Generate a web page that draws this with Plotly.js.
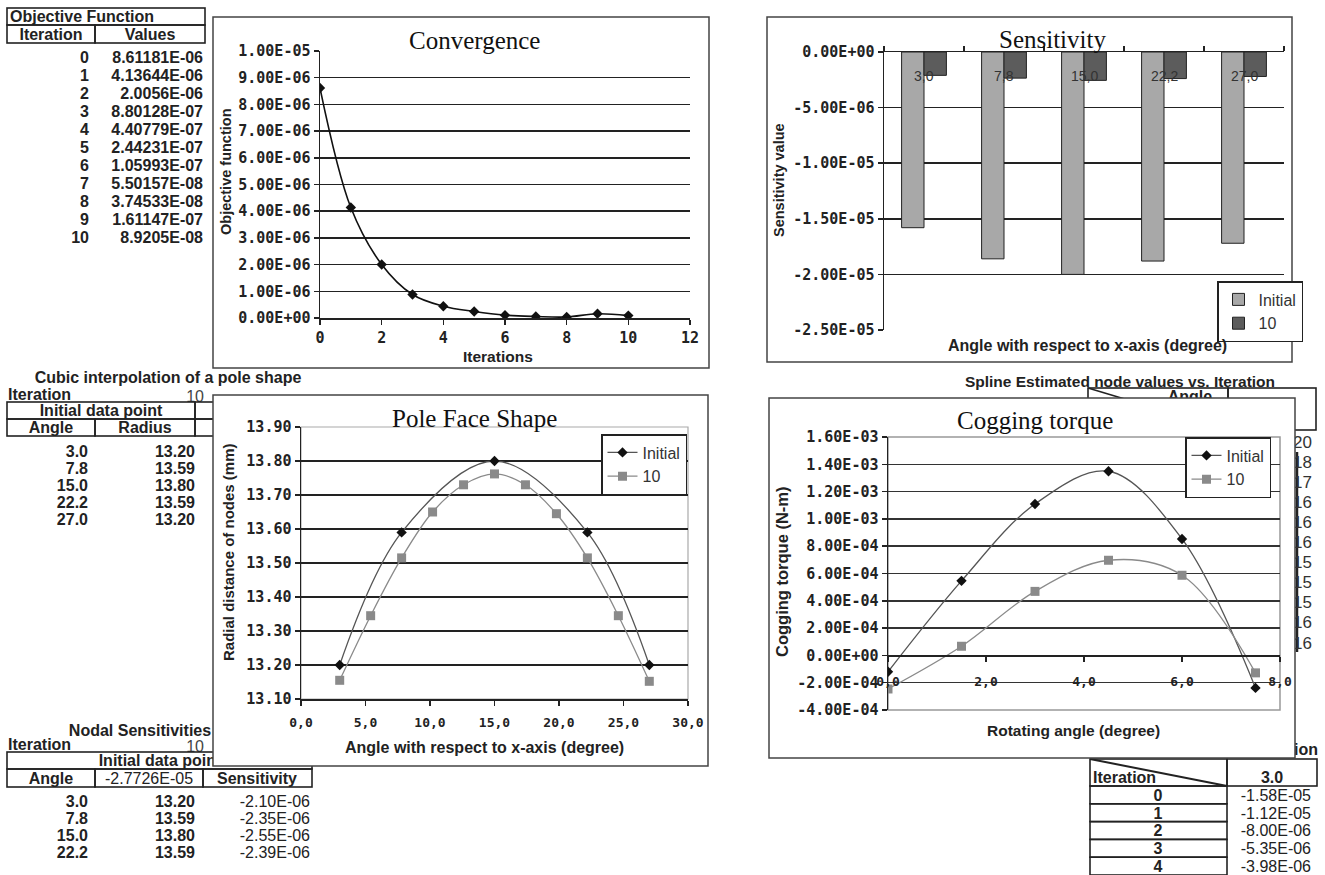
<!DOCTYPE html>
<html><head><meta charset="utf-8">
<script src="https://cdn.plot.ly/plotly-3.0.1.min.js"></script>
<style>
body{margin:0;background:#fff;width:1325px;height:875px;overflow:hidden;position:relative;}
#bg{position:absolute;left:0;top:0;z-index:0;}
#chart{position:absolute;left:0;top:0;width:1325px;height:875px;z-index:1;}
</style></head>
<body>
<svg id="bg" width="1325" height="875" xmlns="http://www.w3.org/2000/svg"></svg>
<div id="chart"></div>
<script>
// ---------------- DATA ----------------
const iterations = [0,1,2,3,4,5,6,7,8,9,10];
const objValues = [8.61181e-6,4.13644e-6,2.0056e-6,8.80128e-7,4.40779e-7,2.44231e-7,1.05993e-7,5.50157e-8,3.74533e-8,1.61147e-7,8.9205e-8];
const objValueLabels = ['8.61181E-06','4.13644E-06','2.0056E-06','8.80128E-07','4.40779E-07','2.44231E-07','1.05993E-07','5.50157E-08','3.74533E-08','1.61147E-07','8.9205E-08'];

const convXTicks = [0,2,4,6,8,10,12];
const convYTicks = [0,1e-6,2e-6,3e-6,4e-6,5e-6,6e-6,7e-6,8e-6,9e-6,1e-5];
const convYLabels = ['0.00E+00','1.00E-06','2.00E-06','3.00E-06','4.00E-06','5.00E-06','6.00E-06','7.00E-06','8.00E-06','9.00E-06','1.00E-05'];

const sensCategories = ['3,0','7,8','15,0','22,2','27,0'];
const sensInitial = [-1.58e-5,-1.86e-5,-2.0e-5,-1.88e-5,-1.72e-5];
const sensIter10 = [-2.10e-6,-2.35e-6,-2.55e-6,-2.39e-6,-2.2e-6];
const sensYTicks = [0,-5e-6,-1e-5,-1.5e-5,-2e-5,-2.5e-5];
const sensYLabels = ['0.00E+00','-5.00E-06','-1.00E-05','-1.50E-05','-2.00E-05','-2.50E-05'];

const poleAnglesInitial = [3.0,7.8,15.0,22.2,27.0];
const poleRadiusInitial = [13.20,13.59,13.80,13.59,13.20];
const poleAngles10 = [3.0,5.4,7.8,10.2,12.6,15.0,17.4,19.8,22.2,24.6,27.0];
const poleRadius10 = [13.155,13.345,13.515,13.65,13.73,13.762,13.73,13.645,13.515,13.345,13.152];
const poleXTicks = [0,5,10,15,20,25,30];
const poleXLabels = ['0,0','5,0','10,0','15,0','20,0','25,0','30,0'];
const poleYTicks = [13.1,13.2,13.3,13.4,13.5,13.6,13.7,13.8,13.9];
const poleYLabels = ['13.10','13.20','13.30','13.40','13.50','13.60','13.70','13.80','13.90'];

const cogAngles = [0,1.5,3.0,4.5,6.0,7.5];
const cogInitial = [-1.2e-4,5.46e-4,1.109e-3,1.349e-3,8.53e-4,-2.38e-4];
const cogIter10 = [-2.46e-4,6.7e-5,4.69e-4,6.97e-4,5.87e-4,-1.28e-4];
const cogXTicks = [0,2,4,6,8];
const cogXLabels = ['0,0','2,0','4,0','6,0','8,0'];
const cogYTicks = [-4e-4,-2e-4,0,2e-4,4e-4,6e-4,8e-4,1e-3,1.2e-3,1.4e-3,1.6e-3];
const cogYLabels = ['-4.00E-04','-2.00E-04','0.00E+00','2.00E-04','4.00E-04','6.00E-04','8.00E-04','1.00E-03','1.20E-03','1.40E-03','1.60E-03'];

// table texts
const tblPoleAngles = ['3.0','7.8','15.0','22.2','27.0'];
const tblPoleRadius = ['13.20','13.59','13.80','13.59','13.20'];
const tblNodalAngles = ['3.0','7.8','15.0','22.2'];
const tblNodalRadius = ['13.20','13.59','13.80','13.59'];
const tblNodalSens = ['-2.10E-06','-2.35E-06','-2.55E-06','-2.39E-06'];
const tblIterRows = ['0','1','2','3','4'];
const tblIterSens = ['-1.58E-05','-1.12E-05','-8.00E-06','-5.35E-06','-3.98E-06'];
const tblSplineValues = ['13.20','13.18','13.17','13.16','13.16','13.16','13.15','13.15','13.15','13.16','13.16'];

// ---------------- BACKGROUND SPREADSHEET ----------------
const NS='http://www.w3.org/2000/svg';
const bg=document.getElementById('bg');
function el(tag,attrs,txt){const e=document.createElementNS(NS,tag);for(const k in attrs)e.setAttribute(k,attrs[k]);if(txt!==undefined)e.textContent=txt;bg.appendChild(e);return e;}
function ln(x1,y1,x2,y2,w){el('line',{x1,y1,x2,y2,stroke:'#222','stroke-width':w||1.6});}
function box(x0,y0,x1,y1,w){el('rect',{x:x0,y:y0,width:x1-x0,height:y1-y0,fill:'none',stroke:'#222','stroke-width':w||1.6});}
function tx(s,x,y,anchor,o){o=o||{};el('text',{x,y,'text-anchor':anchor||'start','dominant-baseline':'central','font-family':'Liberation Sans, Arial, sans-serif','font-weight':o.w||'bold','font-size':o.s||16,fill:o.c||'#222'},s);}

// Objective function table
box(7,8,205,25); tx('Objective Function',10,16.5);
box(7,25,95,43); box(95,25,205,43);
tx('Iteration',51,34,'middle'); tx('Values',150,34,'middle');
iterations.forEach((it,i)=>{const y=57+18*i; tx(String(it),89,y,'end'); tx(objValueLabels[i],203,y,'end');});

// Cubic interpolation table
tx('Cubic interpolation of a pole shape',168,377,'middle');
tx('Iteration',8,394); tx('10',204,396,'end',{w:'normal',c:'#444'});
box(7,402,195,419); box(195,402,240,419);
box(7,419,95,436); box(95,419,195,436); box(195,419,240,436);
tx('Initial data point',101,410.5,'middle'); tx('Angle',51,427.5,'middle'); tx('Radius',145,427.5,'middle');
tblPoleAngles.forEach((a,i)=>{const y=451+17*i; tx(a,88,y,'end'); tx(tblPoleRadius[i],195,y,'end');});

// Nodal sensitivities table
tx('Nodal Sensitivities',140,730,'middle');
tx('Iteration',8,744); tx('10',204,746,'end',{w:'normal',c:'#444'});
box(7,752,312,769); tx('Initial data point',160,760.5,'middle',{w:'bold'});
box(7,769,95,787); box(95,769,203,787); box(203,769,312,787);
tx('Angle',51,778,'middle'); tx('-2.7726E-05',149,778,'middle',{w:'normal'}); tx('Sensitivity',257,778,'middle');
tblNodalAngles.forEach((a,i)=>{const y=801+17*i; tx(a,88,y,'end'); tx(tblNodalRadius[i],195,y,'end'); tx(tblNodalSens[i],310,y,'end',{w:'normal'});});

// Spline estimated table (behind cogging chart)
tx('Spline Estimated node values vs. Iteration',1120,381,'middle',{s:15.5});
box(1088,388,1228,430); box(1228,388,1316,430); ln(1088,388,1228,430,1.6);
tx('Angle',1190,396,'middle');
ln(1297,452,1297,652,2.5);
tblSplineValues.forEach((v,i)=>{tx(v,1312,442+20.1*i,'end',{w:'normal',s:17,c:'#333'});});

// Nodal sensitivities vs iteration table (bottom right)
tx('Nodal Sensitivities vs. Iteration',1318,749,'end');
box(1090,759,1227,786); box(1227,759,1317,786); ln(1090,759,1227,786,2);
tx('Iteration',1093,777); tx('3.0',1272,777,'middle');
tblIterRows.forEach((r,i)=>{const y0=786+17.8*i; box(1090,y0,1227,y0+17.8); tx(r,1158,y0+9.2,'middle'); tx(tblIterSens[i],1311,y0+9.2,'end',{w:'normal'});});

// ---------------- CHARTS ----------------
const W=1325,H=875;
const dx=(a,b)=>[a/W,b/W];
const dy=(top,bot)=>[1-bot/H,1-top/H];
const G={
 conv:{frame:[213,17,709,368],plot:[320,51,690,318]},
 sens:{frame:[767,17,1292,362],plot:[884,52,1284,330]},
 pole:{frame:[213,395,708,766],plot:[301,427,688,699]},
 cog:{frame:[769,398,1295,758],plot:[888,437,1280,710]}
};
const tickFont={family:'DejaVu Sans Mono',size:15,weight:'bold',color:'#222'};
const axTitle=(s)=>({family:'Liberation Sans',size:s,weight:'bold',color:'#222'});
const titleFont={family:'Liberation Serif',size:25,color:'#111'};
const base={showline:true,linecolor:'#222',linewidth:1.5,ticks:'outside',tickcolor:'#222',ticklen:5,tickwidth:1.5,zeroline:false,fixedrange:true,tickfont:tickFont,gridcolor:'#222',gridwidth:1.5};

function frameShape(f){return {type:'rect',xref:'paper',yref:'paper',x0:f[0]/W,x1:f[2]/W,y0:1-f[3]/H,y1:1-f[1]/H,fillcolor:'#fff',line:{color:'#444',width:1.5},layer:'below'};}
function ann(text,x,y,font,angle){return {text,x:x/W,y:1-y/H,xref:'paper',yref:'paper',showarrow:false,font,textangle:angle||0,xanchor:'center',yanchor:'middle'};}

const traces=[
 {x:iterations,y:objValues,xaxis:'x',yaxis:'y',mode:'lines+markers',line:{shape:'spline',smoothing:1,color:'#111',width:1.6},marker:{symbol:'diamond',size:8,color:'#111'},showlegend:false,name:'Objective'},
 {type:'bar',x:sensCategories,y:sensInitial,xaxis:'x2',yaxis:'y2',name:'Initial',legend:'legend2',marker:{color:'#a8a8a8',line:{color:'#222',width:1}}},
 {type:'bar',x:sensCategories,y:sensIter10,xaxis:'x2',yaxis:'y2',name:'10',legend:'legend2',marker:{color:'#5c5c5c',line:{color:'#222',width:1}}},
 {x:poleAnglesInitial,y:poleRadiusInitial,xaxis:'x3',yaxis:'y3',mode:'lines+markers',name:'Initial',legend:'legend',line:{shape:'spline',smoothing:1,color:'#555',width:1.3},marker:{symbol:'diamond',size:8,color:'#111'}},
 {x:poleAngles10,y:poleRadius10,xaxis:'x3',yaxis:'y3',mode:'lines+markers',name:'10',legend:'legend',line:{shape:'spline',smoothing:1,color:'#8a8a8a',width:1.3},marker:{symbol:'square',size:9,color:'#8a8a8a'}},
 {x:cogAngles,y:cogInitial,xaxis:'x4',yaxis:'y4',mode:'lines+markers',name:'Initial',legend:'legend3',line:{shape:'spline',smoothing:1,color:'#555',width:1.3},marker:{symbol:'diamond',size:8,color:'#111'}},
 {x:cogAngles,y:cogIter10,xaxis:'x4',yaxis:'y4',mode:'lines+markers',name:'10',legend:'legend3',line:{shape:'spline',smoothing:1,color:'#8a8a8a',width:1.3},marker:{symbol:'square',size:9,color:'#8a8a8a'}}
];

const cogYRange=[-4e-4,1.6e-3];
const cogYDom=dy(G.cog.plot[1],G.cog.plot[3]);
const cogXPos=cogYDom[0]+(0-cogYRange[0])/(cogYRange[1]-cogYRange[0])*(cogYDom[1]-cogYDom[0]);

const legendBase={bgcolor:'#fff',bordercolor:'#222',borderwidth:1.5,font:{family:'Liberation Sans',size:16,color:'#333'},xanchor:'left',yanchor:'top',tracegroupgap:0,itemwidth:30};

// category labels of the sensitivity chart sit just under the top (zero) axis
const sensCatAnns = sensCategories.map(c=>({text:c,x:c,xref:'x2',y:1,yref:'y2 domain',yanchor:'top',yshift:-14,showarrow:false,font:{family:'Liberation Sans',size:14,color:'#333'}}));

const layout={
 width:W,height:H,margin:{l:0,r:0,t:0,b:0,pad:0},
 paper_bgcolor:'rgba(0,0,0,0)',plot_bgcolor:'rgba(0,0,0,0)',
 barmode:'group',bargap:0.44,bargroupgap:0,
 font:{family:'Liberation Sans',color:'#222'},
 xaxis:Object.assign({},base,{domain:dx(G.conv.plot[0],G.conv.plot[2]),anchor:'y',range:[0,12],tickvals:convXTicks,ticktext:convXTicks.map(String),showgrid:false}),
 yaxis:Object.assign({},base,{domain:dy(G.conv.plot[1],G.conv.plot[3]),anchor:'x',range:[0,1e-5],tickvals:convYTicks,ticktext:convYLabels,showgrid:true}),
 xaxis2:Object.assign({},base,{domain:dx(G.sens.plot[0],G.sens.plot[2]),anchor:'y2',side:'top',type:'category',tickson:'boundaries',showticklabels:false,showgrid:false}),
 yaxis2:Object.assign({},base,{domain:dy(G.sens.plot[1],G.sens.plot[3]),anchor:'x2',range:[-2.5e-5,0],tickvals:sensYTicks,ticktext:sensYLabels,showgrid:true}),
 xaxis3:Object.assign({},base,{domain:dx(G.pole.plot[0],G.pole.plot[2]),anchor:'y3',range:[0,30],tickvals:poleXTicks,ticktext:poleXLabels,showgrid:false,ticklabelstandoff:6,tickfont:{family:'DejaVu Sans Mono',size:13,weight:'bold',color:'#222'}}),
 yaxis3:Object.assign({},base,{domain:dy(G.pole.plot[1],G.pole.plot[3]),anchor:'x3',range:[13.1,13.9],tickvals:poleYTicks,ticktext:poleYLabels,showgrid:true}),
 xaxis4:Object.assign({},base,{domain:dx(G.cog.plot[0],G.cog.plot[2]),anchor:'free',position:cogXPos,range:[0,8],tickvals:cogXTicks,ticktext:cogXLabels,showgrid:false,ticklabelstandoff:8,tickfont:{family:'DejaVu Sans Mono',size:13,weight:'bold',color:'#222'}}),
 yaxis4:Object.assign({},base,{domain:cogYDom,anchor:'x4',range:cogYRange,tickvals:cogYTicks,ticktext:cogYLabels,showgrid:true,gridcolor:'#333'}),
 legend:Object.assign({},legendBase,{x:601/W,y:1-434/H}),
 legend2:Object.assign({},legendBase,{x:1217/W,y:1-281/H}),
 legend3:Object.assign({},legendBase,{x:1185/W,y:1-437/H}),
 shapes:[
  frameShape(G.conv.frame),frameShape(G.sens.frame),frameShape(G.pole.frame),frameShape(G.cog.frame),
  {type:'rect',xref:'x3 domain',yref:'y3 domain',x0:0,x1:1,y0:0,y1:1,line:{color:'#aaa',width:1.2},layer:'below'},
  {type:'rect',xref:'x4 domain',yref:'y4 domain',x0:0,x1:1,y0:0,y1:1,line:{color:'#999',width:1.5},layer:'below'}
 ],
 annotations:[
  ann('Convergence',474,41,titleFont),
  ann('Objective function',226,172,axTitle(14.5),-90),
  ann('Iterations',498,357,axTitle(15.5)),
  ann('Sensitivity',1052,39,titleFont),
  ann('Sensitivity value',779,180,axTitle(14.5),-90),
  ann('Angle with respect to x-axis (degree)',1087,345,axTitle(16)),
  ann('Pole Face Shape',475,418,titleFont),
  ann('Radial distance of nodes (mm)',228,552,axTitle(15),-90),
  ann('Angle with respect to x-axis (degree)',484,747,axTitle(16)),
  ann('Cogging torque',1035,421,titleFont),
  ann('Cogging torque (N-m)',782,572,axTitle(16.5),-90),
  ann('Rotating angle (degree)',1073,730,axTitle(15.5))
 ].concat(sensCatAnns)
};
Plotly.newPlot('chart',traces,layout,{displayModeBar:false,staticPlot:true});
</script>
</body></html>
